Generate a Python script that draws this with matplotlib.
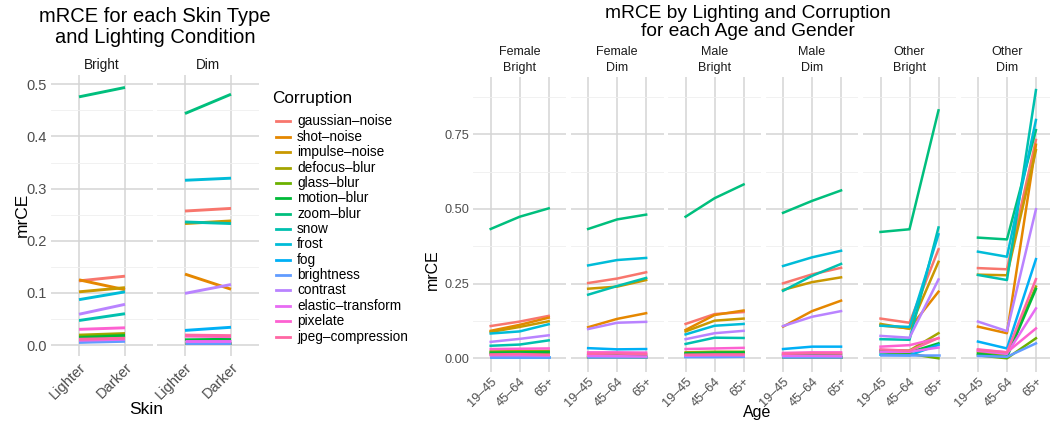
import matplotlib
matplotlib.use("Agg")
import matplotlib.pyplot as plt
import numpy as np

plt.rcParams['font.family'] = ['Liberation Sans', 'DejaVu Sans']

corruptions = ["gaussian–noise", "shot–noise", "impulse–noise", "defocus–blur", "glass–blur",
               "motion–blur", "zoom–blur", "snow", "frost", "fog", "brightness", "contrast",
               "elastic–transform", "pixelate", "jpeg–compression"]
colors = ["#F8766D", "#E58700", "#C99800", "#A3A500", "#6BB100", "#00BA38", "#00BF7D", "#00C0AF",
          "#00BCD8", "#00B0F6", "#619CFF", "#B983FF", "#E76BF3", "#FD61D1", "#FF67A4"]

skin_levels = ["Lighter", "Darker"]
lighting_levels = ["Bright", "Dim"]
age_levels = ["19–45", "45–64", "65+"]
facet_labels = ["Female\nBright", "Female\nDim", "Male\nBright", "Male\nDim", "Other\nBright", "Other\nDim"]

# rows follow the order of `corruptions`; columns follow skin_levels
skin_bright = [[0.123, 0.132], [0.125, 0.106], [0.102, 0.110], [0.019, 0.022], [0.016, 0.019],
               [0.014, 0.018], [0.476, 0.494], [0.047, 0.060], [0.087, 0.102], [0.006, 0.009],
               [0.005, 0.007], [0.059, 0.078], [0.009, 0.011], [0.030, 0.033], [0.011, 0.013]]
skin_dim = [[0.257, 0.262], [0.136, 0.107], [0.233, 0.238], [0.004, 0.004], [0.003, 0.003],
            [0.010, 0.011], [0.444, 0.481], [0.236, 0.233], [0.316, 0.320], [0.028, 0.034],
            [0.004, 0.004], [0.099, 0.116], [0.008, 0.008], [0.017, 0.016], [0.019, 0.018]]

# rows follow `corruptions`; columns follow age_levels
age_female_bright = [[0.108, 0.123, 0.142], [0.092, 0.112, 0.136], [0.088, 0.105, 0.124],
                     [0.023, 0.024, 0.025], [0.014, 0.015, 0.016], [0.019, 0.020, 0.021],
                     [0.433, 0.474, 0.502], [0.042, 0.046, 0.060], [0.083, 0.090, 0.114],
                     [0.006, 0.006, 0.006], [0.004, 0.004, 0.004], [0.055, 0.065, 0.077],
                     [0.010, 0.010, 0.009], [0.031, 0.032, 0.033], [0.013, 0.014, 0.012]]
age_female_dim = [[0.252, 0.267, 0.288], [0.104, 0.132, 0.151], [0.233, 0.240, 0.262],
                  [0.004, 0.004, 0.003], [0.003, 0.003, 0.002], [0.010, 0.010, 0.009],
                  [0.433, 0.465, 0.481], [0.213, 0.242, 0.269], [0.311, 0.329, 0.336],
                  [0.034, 0.030, 0.031], [0.004, 0.004, 0.004], [0.098, 0.119, 0.122],
                  [0.008, 0.007, 0.006], [0.020, 0.020, 0.019], [0.015, 0.016, 0.014]]
age_male_bright = [[0.115, 0.148, 0.155], [0.095, 0.145, 0.160], [0.090, 0.126, 0.133],
                   [0.020, 0.022, 0.022], [0.014, 0.015, 0.016], [0.017, 0.019, 0.020],
                   [0.474, 0.536, 0.582], [0.048, 0.069, 0.068], [0.080, 0.109, 0.115],
                   [0.005, 0.006, 0.006], [0.004, 0.004, 0.005], [0.064, 0.084, 0.092],
                   [0.009, 0.010, 0.010], [0.031, 0.033, 0.035], [0.012, 0.013, 0.013]]
age_male_dim = [[0.251, 0.281, 0.303], [0.106, 0.158, 0.193], [0.229, 0.255, 0.271],
                [0.004, 0.004, 0.004], [0.003, 0.003, 0.003], [0.011, 0.012, 0.012],
                [0.487, 0.527, 0.562], [0.226, 0.276, 0.316], [0.309, 0.338, 0.360],
                [0.031, 0.039, 0.039], [0.004, 0.004, 0.004], [0.108, 0.139, 0.158],
                [0.008, 0.008, 0.007], [0.018, 0.020, 0.020], [0.015, 0.017, 0.016]]
age_other_bright = [[0.133, 0.119, 0.365], [0.110, 0.100, 0.223], [0.115, 0.099, 0.323],
                    [0.027, 0.026, 0.084], [0.020, 0.015, 0.000], [0.024, 0.020, 0.050],
                    [0.423, 0.432, 0.830], [0.064, 0.062, 0.438], [0.109, 0.105, 0.415],
                    [0.012, 0.010, 0.045], [0.010, 0.010, 0.010], [0.075, 0.069, 0.264],
                    [0.022, 0.022, 0.036], [0.039, 0.044, 0.067], [0.030, 0.025, 0.068]]
age_other_dim = [[0.302, 0.298, 0.731], [0.106, 0.084, 0.715], [0.280, 0.278, 0.697],
                 [0.020, 0.012, 0.240], [0.010, 0.000, 0.067], [0.015, 0.004, 0.232],
                 [0.404, 0.398, 0.764], [0.279, 0.262, 0.898], [0.357, 0.340, 0.798],
                 [0.056, 0.033, 0.332], [0.008, 0.005, 0.050], [0.123, 0.091, 0.499],
                 [0.025, 0.015, 0.167], [0.030, 0.020, 0.100], [0.028, 0.020, 0.265]]

W, H = 1050, 423
fig = plt.figure(figsize=(W / 100, H / 100), dpi=100)
fig.patch.set_facecolor("white")

MAJOR = "#D4D4D4"
MINOR = "#EFEFEF"
TICK_C = "#4D4D4D"
STRIP_C = "#1A1A1A"


def px_axes(x0, x1, ytop, ybot):
    return fig.add_axes([x0 / W, 1 - ybot / H, (x1 - x0) / W, (ybot - ytop) / H])


def gg_ylim(arrays):
    vals = np.concatenate([np.ravel(a) for a in arrays])
    lo, hi = vals.min(), vals.max()
    pad = 0.05 * (hi - lo)
    return lo - pad, hi + pad


def style_axes(ax, ymajor, yminor, ncat, show_y, ticklabels, tsize, ytsize):
    ax.set_facecolor("white")
    for s in ax.spines.values():
        s.set_visible(False)
    ax.set_xlim(0.4, ncat + 0.6)
    ax.set_yticks(ymajor)
    ax.set_yticks(yminor, minor=True)
    ax.set_xticks(np.arange(1, ncat + 1))
    ax.grid(True, which="major", axis="both", color=MAJOR, lw=1.1, zorder=0)
    ax.grid(True, which="minor", axis="y", color=MINOR, lw=0.6, zorder=0)
    ax.set_axisbelow(True)
    ax.tick_params(axis="both", which="both", length=0, colors=TICK_C, pad=3)
    ax.tick_params(axis="x", labelsize=tsize)
    ax.tick_params(axis="y", labelsize=ytsize)
    ax.set_xticklabels(ticklabels, rotation=45, ha="right", va="top", rotation_mode="anchor")
    if show_y:
        ax.set_yticklabels([f"{v:.2f}" if len(ymajor) == 4 else f"{v:.1f}" for v in ymajor])
    else:
        ax.set_yticklabels([])
    for lab in ax.get_xticklabels():
        lab.set_color(TICK_C)


# ---------------- Left chart ----------------
left_data = [skin_bright, skin_dim]
ylo, yhi = gg_ylim(left_data)
k_left, y0_left = 521.3, 345.0
ytop_l = y0_left - k_left * yhi
ybot_l = y0_left - k_left * ylo
unit_l = 46.0
first_ticks_l = [79.0, 185.0]
for i, (data, lab) in enumerate(zip(left_data, lighting_levels)):
    x0 = first_ticks_l[i] - 0.6 * unit_l
    x1 = x0 + 2.2 * unit_l
    ax = px_axes(x0, x1, ytop_l, ybot_l)
    ax.set_ylim(ylo, yhi)
    x = np.arange(1, len(skin_levels) + 1)
    for row, c in zip(data, colors):
        ax.plot(x, row, color=c, lw=2.1, solid_capstyle="butt", zorder=3)
    style_axes(ax, [0.0, 0.1, 0.2, 0.3, 0.4, 0.5], [0.05, 0.15, 0.25, 0.35, 0.45],
               2, i == 0, skin_levels, 10.5, 10.5)
    ax.text(0.5, (ytop_l - 65) / (ybot_l - ytop_l) + 1.0, lab, transform=ax.transAxes,
            ha="center", va="center", fontsize=9.8, color=STRIP_C)

fig.text(155 / W, 1 - 27 / H, "mRCE for each Skin Type\nand Lighting Condition", ha="center",
         va="center", fontsize=14.5, linespacing=1.15, color="black")
fig.text(22 / W, 1 - 215 / H, "mrCE", rotation=90, ha="center", va="center", fontsize=12.5)
fig.text(146 / W, 1 - 409 / H, "Skin", ha="center", va="center", fontsize=12.5)

# legend
fig.text(272 / W, 1 - 98 / H, "Corruption", ha="left", va="center", fontsize=12.3)
for j, (name, c) in enumerate(zip(corruptions, colors)):
    yy = 1 - (121.5 + j * 15.36) / H
    fig.add_artist(plt.Line2D([276 / W, 290 / W], [yy, yy], color=c, lw=2.0))
    fig.text(297 / W, yy, name, ha="left", va="center", fontsize=9.8, color="black")

# ---------------- Right chart ----------------
right_data = [age_female_bright, age_female_dim, age_male_bright, age_male_dim,
              age_other_bright, age_other_dim]
ylo, yhi = gg_ylim(right_data)
k_r, y0_r = 298.7, 358.3
ytop_r = y0_r - k_r * yhi
ybot_r = y0_r - k_r * ylo
unit_r = 29.0
period_r = 97.45
for i, (data, lab) in enumerate(zip(right_data, facet_labels)):
    first = 490.7 + i * period_r
    x0 = first - 0.6 * unit_r
    x1 = x0 + 3.2 * unit_r
    ax = px_axes(x0, x1, ytop_r, ybot_r)
    ax.set_ylim(ylo, yhi)
    x = np.arange(1, len(age_levels) + 1)
    for row, c in zip(data, colors):
        ax.plot(x, row, color=c, lw=1.8, solid_joinstyle="round", zorder=3)
    style_axes(ax, [0.0, 0.25, 0.5, 0.75], [0.125, 0.375, 0.625, 0.875],
               3, i == 0, age_levels, 9.2, 9.2)
    ax.text(0.5, 1.0 + (ytop_r - 60) / (ybot_r - ytop_r), lab, transform=ax.transAxes,
            ha="center", va="center", fontsize=9, color=STRIP_C, linespacing=1.35)

fig.text(748 / W, 1 - 22.5 / H, "mRCE by Lighting and Corruption\nfor each Age and Gender",
         ha="center", va="center", fontsize=13.8, linespacing=1.05, color="black")
fig.text(432 / W, 1 - 270 / H, "mrCE", rotation=90, ha="center", va="center", fontsize=11.5)
fig.text(757 / W, 1 - 412 / H, "Age", ha="center", va="center", fontsize=11.5)

fig.savefig("out.png", dpi=100, facecolor="white")
